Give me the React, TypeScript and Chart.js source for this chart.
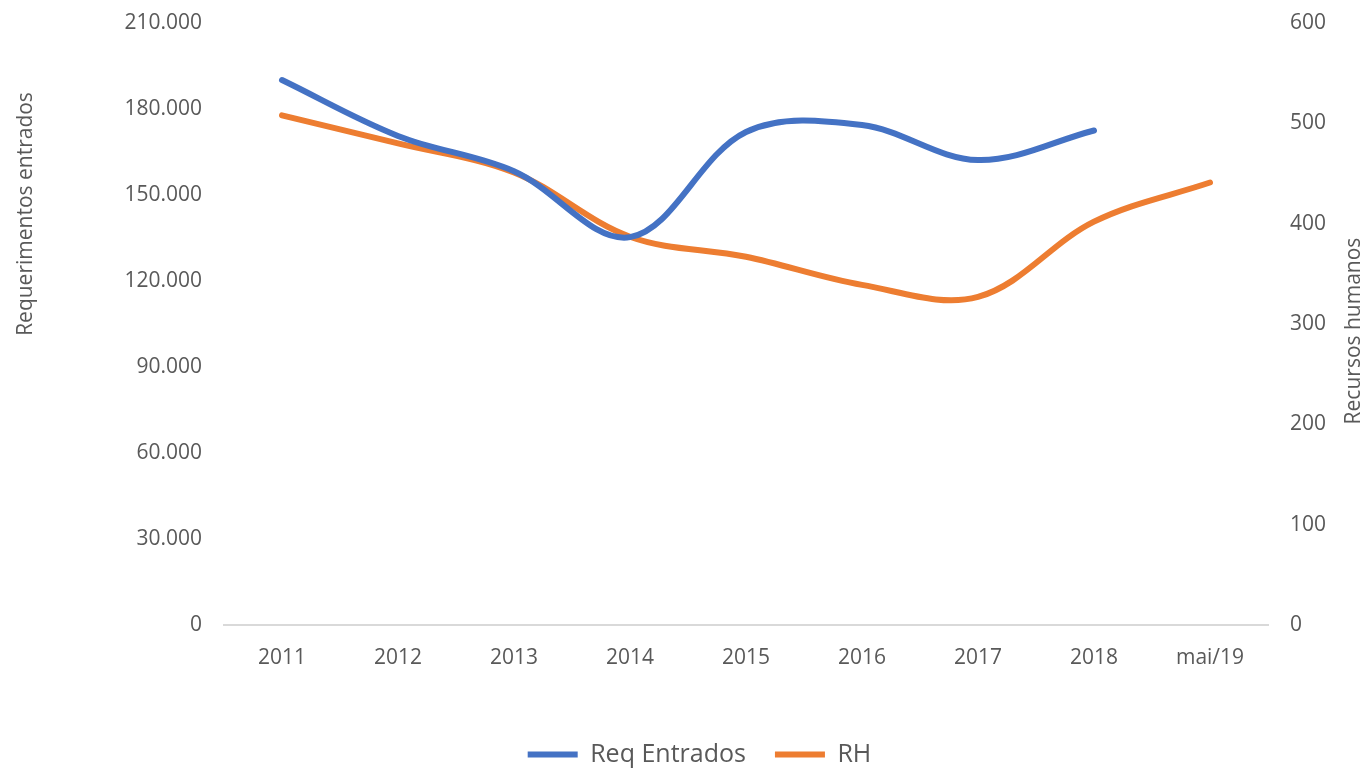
import React, { useEffect, useRef } from 'react';
import { Chart, registerables } from 'chart.js';

Chart.register(...registerables);

const categories = ['2011', '2012', '2013', '2014', '2015', '2016', '2017', '2018', 'mai/19'];
const reqEntrados: (number | null)[] = [190100, 170600, 158300, 135300, 172000, 174400, 162200, 172500, null];
const recursosHumanos: number[] = [508, 480, 451, 387, 367, 339, 327, 402, 441];
const seriesNames = ['Req Entrados', 'RH'];
const leftAxisTitle = 'Requerimentos entrados';
const rightAxisTitle = 'Recursos humanos';
const leftMax = 210000;
const leftStep = 30000;
const rightMax = 600;
const rightStep = 100;

const FONT = "'Open Sans', sans-serif";
const TEXT = '#595959';
const BLUE = '#4472C4';
const ORANGE = '#ED7D31';

const fmt = (v: number) => String(Math.round(v)).replace(/\B(?=(\d{3})+(?!\d))/g, '.');

const axisTitles = {
  id: 'axisTitles',
  afterDraw(chart: any) {
    const ctx = chart.ctx;
    ctx.save();
    ctx.font = `21px ${FONT}`;
    ctx.fillStyle = TEXT;
    ctx.textAlign = 'center';
    ctx.textBaseline = 'middle';
    ctx.translate(26, 214);
    ctx.rotate(-Math.PI / 2);
    ctx.fillText(leftAxisTitle, 0, 0);
    ctx.restore();
    ctx.save();
    ctx.font = `21px ${FONT}`;
    ctx.fillStyle = TEXT;
    ctx.textAlign = 'center';
    ctx.textBaseline = 'middle';
    ctx.translate(1354, 331);
    ctx.rotate(-Math.PI / 2);
    ctx.fillText(rightAxisTitle, 0, 0);
    ctx.restore();
  },
};

export default function App() {
  const ref = useRef<HTMLCanvasElement | null>(null);
  useEffect(() => {
    if (!ref.current) return;
    const chart = new Chart(ref.current, {
      type: 'line',
      data: {
        labels: categories,
        datasets: [
          {
            label: seriesNames[0],
            data: reqEntrados,
            yAxisID: 'y',
            borderColor: BLUE,
            backgroundColor: BLUE,
            borderWidth: 6,
            borderCapStyle: 'round',
            borderJoinStyle: 'round',
            pointRadius: 0,
            pointHoverRadius: 0,
            tension: 0.35,
            fill: false,
          },
          {
            label: seriesNames[1],
            data: recursosHumanos,
            yAxisID: 'y1',
            borderColor: ORANGE,
            backgroundColor: ORANGE,
            borderWidth: 6,
            borderCapStyle: 'round',
            borderJoinStyle: 'round',
            pointRadius: 0,
            pointHoverRadius: 0,
            tension: 0.35,
            fill: false,
          },
        ],
      },
      options: {
        responsive: false,
        animation: false,
        devicePixelRatio: 1,
        layout: { padding: { top: 23, left: 37, right: 0, bottom: -9 } },
        plugins: {
          tooltip: { enabled: false },
          legend: {
            position: 'bottom',
            labels: {
              usePointStyle: true,
              pointStyle: 'line',
              pointStyleWidth: 50,
              padding: 29,
              color: TEXT,
              font: { family: FONT, size: 25 },
            },
          },
        },
        scales: {
          x: {
            type: 'category',
            offset: true,
            grid: { display: false, drawTicks: false },
            border: { display: true, color: '#D9D9D9', width: 2 },
            ticks: { color: TEXT, font: { family: FONT, size: 21 }, padding: 20, maxRotation: 0, autoSkip: false },
            afterFit: (s: any) => { s.height = 88; },
          },
          y: {
            position: 'left',
            min: 0,
            max: leftMax,
            grid: { display: false, drawTicks: false },
            border: { display: false },
            ticks: { stepSize: leftStep, color: TEXT, font: { family: FONT, size: 21 }, padding: 22, callback: (v: any) => fmt(Number(v)) },
            afterFit: (s: any) => { s.width = 187; s.paddingTop = 0; s.paddingBottom = 0; },
          },
          y1: {
            position: 'right',
            min: 0,
            max: rightMax,
            grid: { display: false, drawTicks: false },
            border: { display: false },
            ticks: { stepSize: rightStep, color: TEXT, font: { family: FONT, size: 21 }, padding: 22 },
            afterFit: (s: any) => { s.width = 94; s.paddingTop = 0; s.paddingBottom = 0; },
          },
        },
      },
      plugins: [axisTitles],
    } as any);
    return () => chart.destroy();
  }, []);
  return (
    <div style={{ position: 'fixed', left: 0, top: 0, width: 1362, height: 768, overflow: 'hidden', background: '#fff' }}>
      <canvas ref={ref} width={1362} height={768} style={{ width: 1362, height: 768, display: 'block' }} />
    </div>
  );
}
